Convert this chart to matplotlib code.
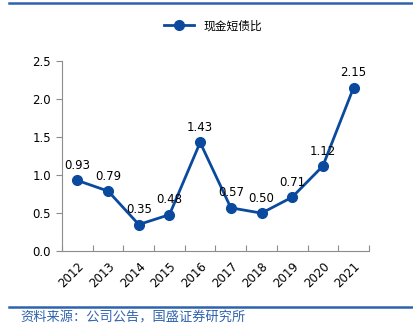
import matplotlib
matplotlib.use("Agg")
import matplotlib.pyplot as plt
from matplotlib.lines import Line2D

plt.rcParams['font.family'] = ['DejaVu Sans', 'Noto Sans CJK SC']

# data
years = ['2012', '2013', '2014', '2015', '2016', '2017', '2018', '2019', '2020', '2021']
ratio = [0.93, 0.79, 0.35, 0.48, 1.43, 0.57, 0.50, 0.71, 1.12, 2.15]
labels = ['0.93', '0.79', '0.35', '0.48', '1.43', '0.57', '0.50', '0.71', '1.12', '2.15']

blue = '#0a4a9e'
axis_gray = '#8c8c8c'

fig = plt.figure(figsize=(4.14, 3.27), dpi=100)
ax = fig.add_axes([0.150, 0.232, 0.741, 0.581])

x = list(range(len(years)))
line, = ax.plot(x, ratio, color=blue, linewidth=2, marker='o', markersize=7,
                label='现金短债比')

for xi, yi, lab in zip(x, ratio, labels):
    ax.annotate(lab, (xi, yi), xytext=(0, 6), textcoords='offset points',
                ha='center', va='bottom', fontsize=8.5, color='black')

ax.set_xlim(-0.5, len(years) - 0.5)
ax.set_ylim(0, 2.5)
ax.set_yticks([0.0, 0.5, 1.0, 1.5, 2.0, 2.5])
ax.set_yticklabels(['0.0', '0.5', '1.0', '1.5', '2.0', '2.5'])

# category boundary ticks on x, labels at category centres
ax.set_xticks([i + 0.5 for i in x[:-1]] + [-0.5, len(years) - 0.5], minor=False)
ax.set_xticklabels([])
ax.set_xticks(x, minor=True)
ax.set_xticklabels(years, minor=True, rotation=45, ha='right',
                   rotation_mode='anchor', fontsize=8.5)
ax.tick_params(axis='x', which='major', direction='in', length=4, color=axis_gray)
ax.tick_params(axis='x', which='minor', length=0, pad=6)
ax.tick_params(axis='y', direction='out', length=4, color=axis_gray,
               labelsize=8.5, pad=4)

for side in ['top', 'right']:
    ax.spines[side].set_visible(False)
for side in ['left', 'bottom']:
    ax.spines[side].set_color(axis_gray)

fig.legend(handles=[line], loc='center', bbox_to_anchor=(0.515, 0.921),
           frameon=False, handlelength=2.6,
           prop={'family': ['Noto Sans CJK SC'], 'size': 8.5})

# header / footer rules
fig.add_artist(Line2D([0.022, 0.995], [0.991, 0.991], color='#2e62ad', linewidth=1.8))
fig.add_artist(Line2D([0.022, 0.995], [0.061, 0.061], color='#2e62ad', linewidth=1.8))
fig.text(0.048, 0.017, '资料来源：公司公告，国盛证券研究所', fontsize=9.5,
         color='#2e62ad', family=['Noto Sans CJK SC'], va='baseline', ha='left')

fig.savefig('out.png', dpi=100)
